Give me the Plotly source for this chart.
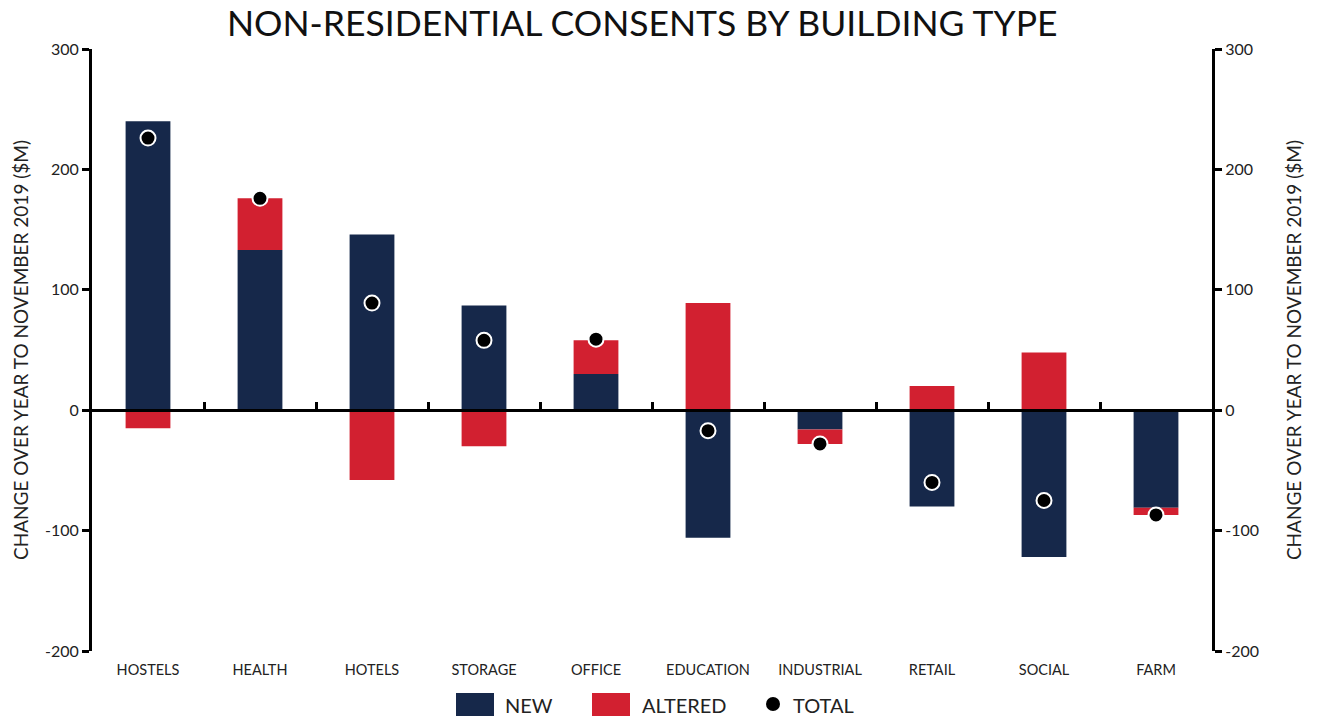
import plotly.graph_objects as go

categories = ["HOSTELS", "HEALTH", "HOTELS", "STORAGE", "OFFICE",
              "EDUCATION", "INDUSTRIAL", "RETAIL", "SOCIAL", "FARM"]
new_vals = [240, 133, 146, 87, 30, -106, -16, -80, -122, -81]
altered_vals = [-15, 43, -58, -30, 28, 89, -12, 20, 48, -6]
total_vals = [226, 176, 89, 58, 59, -17, -28, -60, -75, -87]
y_tickvals = [-200, -100, 0, 100, 200, 300]
y_ticktext = ["-200", "-100", "0", "100", "200", "300"]

NAVY = "#16284a"
RED = "#d22030"
FONT = "Lato"
TXT = "#222222"

xpos = list(range(len(categories)))

fig = go.Figure()
fig.add_trace(go.Bar(x=xpos, y=new_vals, name="NEW", marker=dict(color=NAVY, line=dict(width=0)), width=0.4))
fig.add_trace(go.Bar(x=xpos, y=altered_vals, name="ALTERED", marker=dict(color=RED, line=dict(width=0)), width=0.4))
fig.add_trace(go.Scatter(x=xpos, y=total_vals, name="TOTAL", mode="markers",
                         marker=dict(color="black", size=15, line=dict(color="white", width=2))))
# invisible trace to activate right axis
fig.add_trace(go.Scatter(x=[0], y=[0], yaxis="y2", mode="markers", marker=dict(opacity=0),
                         showlegend=False, hoverinfo="skip"))
# invisible trace for zero-line axis
fig.add_trace(go.Scatter(x=[0], y=[0], xaxis="x2", mode="markers", marker=dict(opacity=0),
                         showlegend=False, hoverinfo="skip"))

yrange = [-200, 300]
ytitle = "CHANGE OVER YEAR TO NOVEMBER 2019 ($M)"
zero_pos = (0 - yrange[0]) / (yrange[1] - yrange[0])

fig.update_layout(
    width=1317, height=718,
    barmode="relative",
    plot_bgcolor="white", paper_bgcolor="white",
    margin=dict(l=92, r=105, t=49, b=67),
    showlegend=False,
    font=dict(family=FONT, color=TXT),
    title=dict(text="NON-RESIDENTIAL CONSENTS BY BUILDING TYPE", x=647 / 1317, xref="paper",
               xanchor="center", y=1 - 24 / 718, yref="container", yanchor="middle",
               font=dict(size=35.5, family=FONT, color="#111111")),
    xaxis=dict(range=[-0.5, 9.5], tickvals=xpos, ticktext=categories, showgrid=False,
               zeroline=False, showline=False, ticks="", tickfont=dict(size=14.5, color=TXT),
               ticklabelstandoff=8),
    xaxis2=dict(range=[-0.5, 9.5], overlaying="x", anchor="free", position=zero_pos, side="top",
                tickvals=[i + 0.5 for i in range(9)], showticklabels=False, ticks="outside",
                ticklen=7, tickwidth=3, tickcolor="black", showline=True, linecolor="black",
                linewidth=3, showgrid=False, zeroline=False),
    yaxis=dict(range=yrange, tickvals=y_tickvals, ticktext=y_ticktext, showgrid=False,
               zeroline=False, showline=True, linecolor="black", linewidth=3,
               ticks="outside", ticklen=7, tickwidth=3, tickcolor="black",
               tickfont=dict(size=16, color=TXT),
               title=dict(text=ytitle, font=dict(size=19, color=TXT), standoff=12)),
    yaxis2=dict(range=yrange, overlaying="y", side="right", anchor="x",
                tickvals=y_tickvals, ticktext=y_ticktext, showgrid=False, zeroline=False,
                showline=True, linecolor="black", linewidth=3,
                ticks="outside", ticklen=7, tickwidth=3, tickcolor="black",
                tickfont=dict(size=16, color=TXT),
                title=dict(text=ytitle, font=dict(size=19, color=TXT), standoff=30)),
)

# custom legend
def px_x(px):
    return (px - 92) / 1120

def px_y(py):
    return (651 - py) / 602

shapes = [
    dict(type="rect", xref="paper", yref="paper", x0=px_x(456), x1=px_x(494), y0=px_y(716), y1=px_y(693),
         fillcolor=NAVY, line=dict(width=0)),
    dict(type="rect", xref="paper", yref="paper", x0=px_x(592), x1=px_x(630), y0=px_y(716), y1=px_y(693),
         fillcolor=RED, line=dict(width=0)),
    dict(type="circle", xref="paper", yref="paper", x0=px_x(766), x1=px_x(780), y0=px_y(711), y1=px_y(697),
         fillcolor="black", line=dict(width=0)),
]
ann = []
for txt, xp in [("NEW", 503), ("ALTERED", 640), ("TOTAL", 791)]:
    ann.append(dict(text=txt, xref="paper", yref="paper", x=px_x(xp), y=px_y(705), xanchor="left",
                    yanchor="middle", showarrow=False, font=dict(size=20, family=FONT, color=TXT)))
fig.update_layout(shapes=shapes, annotations=ann)

fig.write_html("out.html", config={"displayModeBar": False},
               post_script="document.body.style.margin='0';document.body.style.overflow='hidden';")
